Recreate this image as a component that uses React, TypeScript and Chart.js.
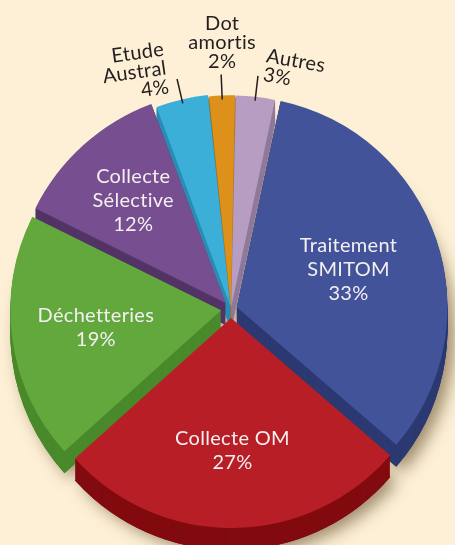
import React, { useEffect, useRef } from 'react';
import { Chart, registerables } from 'chart.js';

Chart.register(...registerables);

// ---- data ----
const categories = ['Traitement SMITOM', 'Collecte OM', 'Déchetteries', 'Collecte Sélective', 'Etude Austral', 'Dot amortis', 'Autres'];
const labelLines = [['Traitement', 'SMITOM'], ['Collecte OM'], ['Déchetteries'], ['Collecte', 'Sélective'], ['Etude', 'Austral'], ['Dot', 'amortis'], ['Autres']];
const values = [33, 27, 19, 12, 4, 2, 3];

// ---- styles ----
const faceColors = ['#42539A', '#B81E26', '#62A83C', '#774F91', '#3CAFD9', '#DD911B', '#B89DC3'];
const sideColors = ['#2D3A72', '#820B0F', '#4A8A2C', '#533467', '#2A8DB3', '#AE6E10', '#8F7A9C'];
const explodePx = [6, 9, 10, 8, 3, 2, 2];
const insideFrac = [0.56, 0.63, 0.6, 0.65, 0, 0, 0];
// outside label layout: [align, dx, dy(last baseline), rotationDeg]
const outsideLayout: Record<number, [CanvasTextAlign, number, number, number]> = {
  4: ['right', -9, 13, -8],
  5: ['center', 1, -6, 0],
  6: ['left', 5, 4, 10],
};
const BG = '#FDF0D6';
const DEPTH = 22;
const FONT = '20px Lato, "DejaVu Sans", sans-serif';

function arcGeom(arc: any) {
  const p = arc.getProps(['x', 'y', 'startAngle', 'endAngle', 'outerRadius', 'circumference'], true);
  const off = (arc.options.offset || 0) / 4;
  const mid = (p.startAngle + p.endAngle) / 2;
  const fix = 1 - Math.sin(Math.min(Math.PI, p.circumference || 0));
  return {
    cx: p.x + Math.cos(mid) * off,
    cy: p.y + Math.sin(mid) * off,
    r: p.outerRadius + off * fix,
    start: p.startAngle,
    end: p.endAngle,
    mid,
  };
}

function wedge(ctx: CanvasRenderingContext2D, g: any, dy: number) {
  ctx.beginPath();
  ctx.moveTo(g.cx, g.cy + dy);
  ctx.arc(g.cx, g.cy + dy, g.r, g.start, g.end);
  ctx.closePath();
}

const extrudePlugin = {
  id: 'extrude',
  beforeDatasetsDraw(chart: any) {
    const ctx: CanvasRenderingContext2D = chart.ctx;
    const geoms = chart.getDatasetMeta(0).data.map(arcGeom);
    ctx.save();
    ctx.shadowColor = 'rgba(80,55,20,0.55)';
    ctx.shadowBlur = 16;
    ctx.shadowOffsetX = 7;
    ctx.shadowOffsetY = 5;
    geoms.forEach((g: any, i: number) => {
      ctx.fillStyle = sideColors[i];
      wedge(ctx, g, DEPTH);
      ctx.fill();
    });
    ctx.restore();
    ctx.save();
    for (let k = DEPTH; k >= 1; k--) {
      geoms.forEach((g: any, i: number) => {
        ctx.fillStyle = sideColors[i];
        wedge(ctx, g, k);
        ctx.fill();
      });
    }
    ctx.restore();
  },
};

const labelPlugin = {
  id: 'pieLabels',
  afterDatasetsDraw(chart: any) {
    const ctx: CanvasRenderingContext2D = chart.ctx;
    const total = values.reduce((a, b) => a + b, 0);
    chart.getDatasetMeta(0).data.forEach((arc: any, i: number) => {
      const g = arcGeom(arc);
      const lines = [...labelLines[i], Math.round((values[i] / total) * 100) + '%'];
      ctx.save();
      ctx.font = FONT;
      (ctx as any).letterSpacing = '0.3px';
      if (insideFrac[i] > 0) {
        const r = g.r * insideFrac[i];
        const lx = g.cx + Math.cos(g.mid) * r;
        const ly = g.cy + Math.sin(g.mid) * r;
        ctx.fillStyle = '#F4EFF1';
        ctx.textAlign = 'center';
        ctx.textBaseline = 'middle';
        const lh = 24;
        lines.forEach((t, k) => ctx.fillText(t, lx, ly + (k - (lines.length - 1) / 2) * lh));
      } else {
        const r1 = g.r - 4;
        const r2 = g.r + 21;
        const x1 = g.cx + Math.cos(g.mid) * r1;
        const y1 = g.cy + Math.sin(g.mid) * r1;
        const x2 = g.cx + Math.cos(g.mid) * r2;
        const y2 = g.cy + Math.sin(g.mid) * r2;
        ctx.strokeStyle = '#231F20';
        ctx.lineWidth = 1.5;
        ctx.beginPath();
        ctx.moveTo(x1, y1);
        ctx.lineTo(x2, y2);
        ctx.stroke();
        const [align, dx, dy, rot] = outsideLayout[i];
        ctx.translate(x2, y2);
        ctx.rotate((rot * Math.PI) / 180);
        ctx.fillStyle = '#231F20';
        ctx.textAlign = align;
        ctx.textBaseline = 'alphabetic';
        const lh = 19;
        lines.forEach((t, k) => ctx.fillText(t, dx, dy - (lines.length - 1 - k) * lh));
      }
      ctx.restore();
    });
  },
};

export default function App() {
  const ref = useRef<HTMLCanvasElement>(null);
  useEffect(() => {
    if (!ref.current) return;
    const chart = new Chart(ref.current, {
      type: 'pie',
      data: {
        labels: categories,
        datasets: [
          {
            data: values,
            backgroundColor: faceColors,
            borderWidth: 0,
            offset: explodePx.map((v) => v * 4),
            radius: 210,
          } as any,
        ],
      },
      options: {
        animation: false,
        responsive: false,
        rotation: 12,
        layout: { padding: { left: 7, top: 73, right: 0, bottom: 0 } },
        plugins: { legend: { display: false }, tooltip: { enabled: false } },
      },
      plugins: [extrudePlugin, labelPlugin],
    });
    return () => chart.destroy();
  }, []);
  return (
    <div style={{ position: 'fixed', left: 0, top: 0, width: 455, height: 545, background: BG, overflow: 'hidden' }}>
      <canvas ref={ref} width={455} height={545} style={{ display: 'block' }} />
    </div>
  );
}
